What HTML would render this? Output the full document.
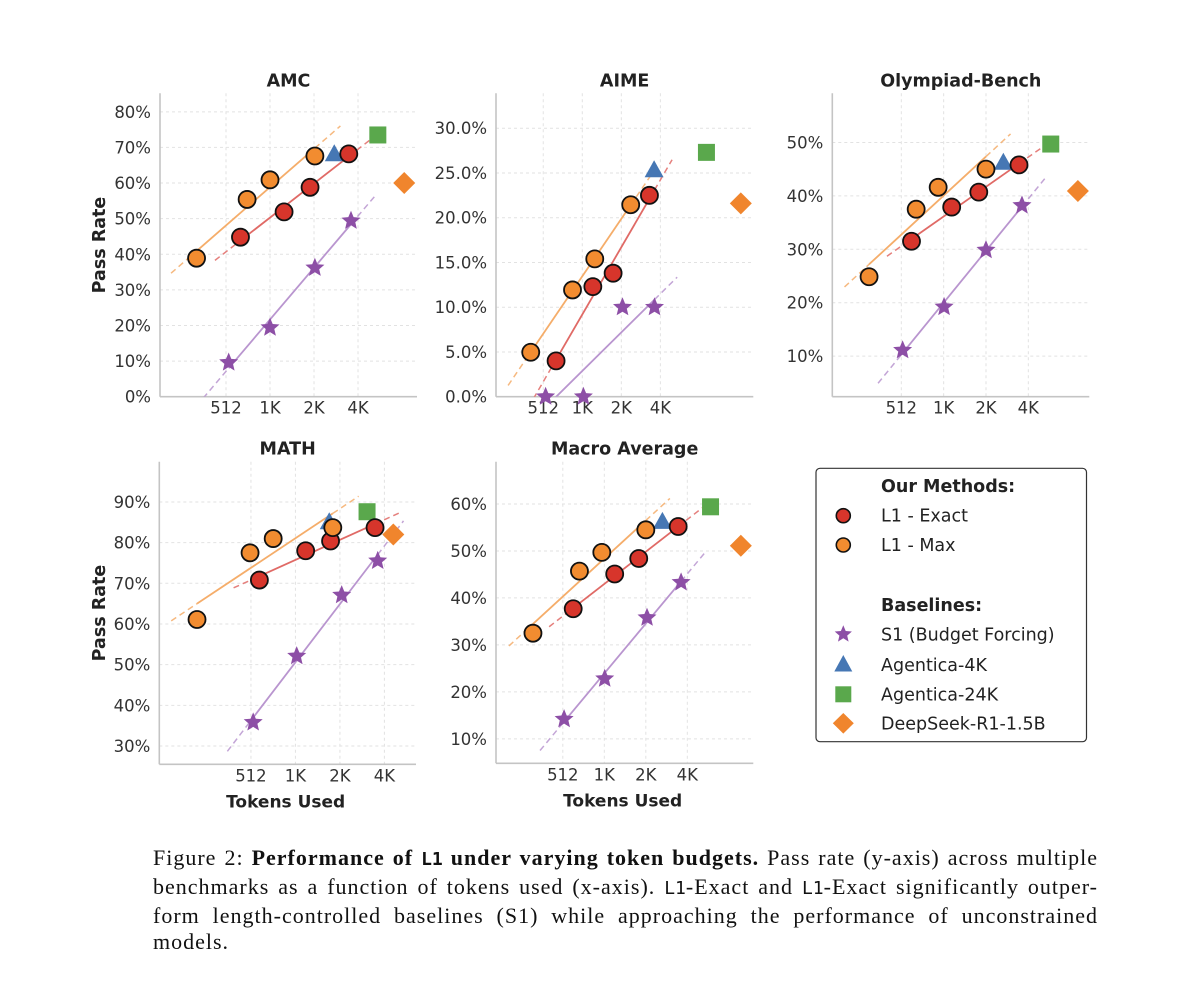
<!DOCTYPE html>
<html><head><meta charset="utf-8">
<style>
html,body{margin:0;padding:0;background:#fff;}
#wrap{position:relative;width:1200px;height:983px;overflow:hidden;}
svg text{font-family:"DejaVu Sans","Liberation Sans",sans-serif;}
#caption{position:absolute;left:153px;top:845px;width:945px;font-family:"Liberation Serif",serif;font-size:22px;letter-spacing:1px;line-height:26.8px;color:#111;}
#caption .ln{display:block;text-align:justify;text-align-last:justify;white-space:nowrap;}
#caption .last{text-align-last:left;}
#caption code{font-family:"DejaVu Sans Mono","Liberation Mono",monospace;font-size:18px;letter-spacing:0;}
</style></head>
<body>
<div id="wrap">
<svg id="chart" width="1200" height="840" viewBox="0 0 1200 840"></svg>
<div id="caption">
<span class="ln">Figure 2: <b>Performance of <code style="font-weight:bold">L1</code> under varying token budgets.</b> Pass rate (y-axis) across multiple</span>
<span class="ln">benchmarks as a function of tokens used (x-axis). <code>L1</code>-Exact and <code>L1</code>-Exact significantly outper-</span>
<span class="ln">form length-controlled baselines (S1) while approaching the performance of unconstrained</span>
<span class="ln last">models.</span>
</div>
</div>
<script>
// ---- data (tokens, pass-rate %) ----
const xTickTokens = [512, 1024, 2048, 4096];
const xTickLabels = ["512", "1K", "2K", "4K"];

const amcMaxTokens = [322, 714, 1024, 2076];
const amcMaxValues = [38.9, 55.4, 60.9, 67.6];
const amcExactTokens = [643, 1278, 1924, 3540];
const amcExactValues = [44.8, 51.9, 58.8, 68.2];
const amcS1Tokens = [534, 1024, 2076, 3665];
const amcS1Values = [9.6, 19.4, 36.2, 49.4];
const amcBaselineTokens = [2817, 5595, 8478];
const amcBaselineValues = [68.1, 73.5, 60.0];
const amcYTicks = [0, 10, 20, 30, 40, 50, 60, 70, 80];

const aimeMaxTokens = [410, 861, 1278, 2419];
const aimeMaxValues = [4.97, 11.93, 15.4, 21.45];
const aimeExactTokens = [643, 1235, 1770, 3373];
const aimeExactValues = [4.0, 12.3, 13.8, 22.5];
const aimeS1Tokens = [534, 1045, 2090, 3690];
const aimeS1Values = [0, 0, 10, 10];
const aimeBaselineTokens = [3665, 9280, 17080];
const aimeBaselineValues = [25.3, 27.3, 21.6];
const aimeYTicks = [0, 5, 10, 15, 20, 25, 30];

const olyMaxTokens = [302, 653, 936, 2048];
const olyMaxValues = [24.85, 37.5, 41.6, 45.0];
const olyExactTokens = [605, 1168, 1820, 3516];
const olyExactValues = [31.5, 37.9, 40.7, 45.8];
const olyS1Tokens = [523, 1031, 2048, 3690];
const olyS1Values = [11.1, 19.2, 29.85, 38.2];
const olyBaselineTokens = [2721, 5913, 9216];
const olyBaselineValues = [46.2, 49.7, 40.9];
const olyYTicks = [10, 20, 30, 40, 50];

const mathMaxTokens = [221, 505, 724, 1833];
const mathMaxValues = [61.1, 77.5, 81.0, 83.7];
const mathExactTokens = [584, 1201, 1770, 3540];
const mathExactValues = [70.8, 78.0, 80.4, 83.7];
const mathS1Tokens = [530, 1045, 2105, 3690];
const mathS1Values = [35.8, 52.1, 67.1, 75.5];
const mathBaselineTokens = [1734, 3125, 4705];
const mathBaselineValues = [85.0, 87.6, 82.0];
const mathYTicks = [30, 40, 50, 60, 70, 80, 90];

const macroMaxTokens = [311, 676, 982, 2048];
const macroMaxValues = [32.5, 45.7, 49.7, 54.5];
const macroExactTokens = [609, 1218, 1820, 3516];
const macroExactValues = [37.7, 45.1, 48.4, 55.2];
const macroS1Tokens = [523, 1031, 2090, 3690];
const macroS1Values = [14.2, 22.8, 35.8, 43.3];
const macroBaselineTokens = [2702, 6037, 10015];
const macroBaselineValues = [56.2, 59.4, 51.1];
const macroYTicks = [10, 20, 30, 40, 50, 60];

const NS = "http://www.w3.org/2000/svg";
const svg = document.getElementById("chart");
const C = {exact:"#d7352b", max:"#f28c30", s1:"#8d4fa6", tri:"#4677b4", sq:"#5aa84c", dia:"#f0852d",
  exactLine:"#e06a66", maxLine:"#f5ad6a", s1Line:"#b995cf"};

function mk(tag, attrs, parent){
  const e = document.createElementNS(NS, tag);
  for (const k in attrs) e.setAttribute(k, attrs[k]);
  (parent||svg).appendChild(e);
  return e;
}

const panels = [
  {key:"amc", title:"AMC", px:[160,417], lx:[7.5,13.34], py:[93.3,396.7], yd:[85.2,0], yt:amcYTicks, dec:0, ylabel:true, xlabel:false,
   max:[amcMaxTokens,amcMaxValues], exact:[amcExactTokens,amcExactValues], s1:[amcS1Tokens,amcS1Values], base:[amcBaselineTokens,amcBaselineValues]},
  {key:"aime", title:"AIME", px:[496,753.3], lx:[7.79,14.38], py:[93.3,396.7], yd:[33.9,0], yt:aimeYTicks, dec:1, ylabel:false, xlabel:false,
   max:[aimeMaxTokens,aimeMaxValues], exact:[aimeExactTokens,aimeExactValues], s1:[aimeS1Tokens,aimeS1Values], base:[aimeBaselineTokens,aimeBaselineValues]},
  {key:"olympiad", title:"Olympiad-Bench", px:[832.3,1089.3], lx:[7.37,13.44], py:[93.3,396.7], yd:[59.2,2.4], yt:olyYTicks, dec:0, ylabel:false, xlabel:false,
   max:[olyMaxTokens,olyMaxValues], exact:[olyExactTokens,olyExactValues], s1:[olyS1Tokens,olyS1Values], base:[olyBaselineTokens,olyBaselineValues]},
  {key:"math", title:"MATH", px:[159.3,416], lx:[6.94,12.71], py:[461.7,764.3], yd:[99.9,25.5], yt:mathYTicks, dec:0, ylabel:true, xlabel:true,
   max:[mathMaxTokens,mathMaxValues], exact:[mathExactTokens,mathExactValues], s1:[mathS1Tokens,mathS1Values], base:[mathBaselineTokens,mathBaselineValues]},
  {key:"macro", title:"Macro Average", px:[496,753.3], lx:[7.39,13.59], py:[461.7,763.3], yd:[69,4.8], yt:macroYTicks, dec:0, ylabel:false, xlabel:true,
   max:[macroMaxTokens,macroMaxValues], exact:[macroExactTokens,macroExactValues], s1:[macroS1Tokens,macroS1Values], base:[macroBaselineTokens,macroBaselineValues]}
];

function starPts(cx, cy, R){
  const r = R*0.45; let p = [];
  for (let i=0;i<10;i++){
    const a = -Math.PI/2 + i*Math.PI/5, rr = i%2? r : R;
    p.push((cx+rr*Math.cos(a)).toFixed(1)+","+(cy+rr*Math.sin(a)).toFixed(1));
  }
  return p.join(" ");
}

function fit(xs, ys){
  const n = xs.length; let mx=0,my=0; xs.forEach(v=>mx+=v); ys.forEach(v=>my+=v); mx/=n; my/=n;
  let sxy=0,sxx=0; for(let i=0;i<n;i++){sxy+=(xs[i]-mx)*(ys[i]-my); sxx+=(xs[i]-mx)**2;}
  const b = sxy/sxx; return {a:my-b*mx, b:b};
}

panels.forEach((P, pi)=>{
  const g = mk("g", {});
  
  
  const X = t => P.px[0] + (Math.log2(t) - P.lx[0]) / (P.lx[1]-P.lx[0]) * (P.px[1]-P.px[0]);
  const XL = l => P.px[0] + (l - P.lx[0]) / (P.lx[1]-P.lx[0]) * (P.px[1]-P.px[0]);
  const Y = v => P.py[0] + (P.yd[0]-v) / (P.yd[0]-P.yd[1]) * (P.py[1]-P.py[0]);

  const cp = mk("clipPath", {id:"clip"+pi}, g);
  mk("rect", {x:P.px[0], y:P.py[0], width:P.px[1]-P.px[0], height:P.py[1]-P.py[0]}, cp);

  P.yt.forEach(v=>{
    const l = mk("line", {x1:P.px[0], x2:P.px[1], y1:Y(v), y2:Y(v), stroke:"#e2e2e2", "stroke-width":1, "stroke-dasharray":"3,3"}, g);
    
    
    const t = mk("text", {x:P.px[0]-9, y:Y(v)+6, "text-anchor":"end", "font-size":16.5, fill:"#333"}, g);
    t.textContent = v.toFixed(P.dec) + "%";
    
    
  });
  xTickTokens.forEach((tk, i)=>{
    const l = mk("line", {x1:X(tk), x2:X(tk), y1:P.py[0], y2:P.py[1], stroke:"#e2e2e2", "stroke-width":1, "stroke-dasharray":"3,3"}, g);
    
    
    const t = mk("text", {x:X(tk), y:P.py[1]+17, "text-anchor":"middle", "font-size":16.5, fill:"#333"}, g);
    t.textContent = xTickLabels[i];
    
    
  });
  const sp1 = mk("line", {x1:P.px[0], x2:P.px[0], y1:P.py[0], y2:P.py[1], stroke:"#c4c4c4", "stroke-width":1.6}, g);
  
  
  const sp2 = mk("line", {x1:P.px[0], x2:P.px[1], y1:P.py[1], y2:P.py[1], stroke:"#c4c4c4", "stroke-width":1.6}, g);
  
  

  const tt = mk("text", {x:(P.px[0]+P.px[1])/2, y:P.py[0]-7, "text-anchor":"middle", "font-size":17.5, "font-weight":"bold", fill:"#222"}, g);
  tt.textContent = P.title;
  
  
  if (P.ylabel){
    const cy = (P.py[0]+P.py[1])/2;
    const yl = mk("text", {x:105, y:cy, "text-anchor":"middle", "font-size":17.5, "font-weight":"bold", fill:"#222", transform:"rotate(-90 105 "+cy+")"}, g);
    yl.textContent = "Pass Rate";
    
    
  }
  if (P.xlabel){
    const xl = mk("text", {x:(P.px[0]+P.px[1])/2-2, y:P.py[1]+43, "text-anchor":"middle", "font-size":17, "font-weight":"bold", fill:"#222"}, g);
    xl.textContent = "Tokens Used";
    
    
  }

  const lg = mk("g", {"clip-path":"url(#clip"+pi+")"}, g);
  [["s1",C.s1Line],["exact",C.exactLine],["max",C.maxLine]].forEach(([k,col])=>{
    const ls = P[k][0].map(t=>Math.log2(t)), vs = P[k][1];
    const f = fit(ls, vs);
    const lo = Math.min(...ls), hi = Math.max(...ls), ext = 0.58;
    const d1 = mk("line", {x1:XL(lo-ext), y1:Y(f.a+f.b*(lo-ext)), x2:XL(lo), y2:Y(f.a+f.b*lo), stroke:col, "stroke-width":1.5, "stroke-dasharray":"6,4", "stroke-opacity":0.85}, lg);
    
    
    const s = mk("line", {x1:XL(lo), y1:Y(f.a+f.b*lo), x2:XL(hi), y2:Y(f.a+f.b*hi), stroke:col, "stroke-width":1.8}, lg);
    
    
    const d2 = mk("line", {x1:XL(hi), y1:Y(f.a+f.b*hi), x2:XL(hi+ext), y2:Y(f.a+f.b*(hi+ext)), stroke:col, "stroke-width":1.5, "stroke-dasharray":"6,4", "stroke-opacity":0.85}, lg);
    
    
  });

  const bt = P.base[0], bv = P.base[1];
  {
    const cx = X(bt[0]), cy = Y(bv[0]);
    const m = mk("polygon", {points:`${cx},${cy-10} ${cx+9.5},${cy+7} ${cx-9.5},${cy+7}`, fill:C.tri}, g);
    
    
  }
  {
    const cx = X(bt[1]), cy = Y(bv[1]);
    const m = mk("rect", {x:cx-8.5, y:cy-8.5, width:17, height:17, fill:C.sq}, g);
    
    
  }
  {
    const cx = X(bt[2]), cy = Y(bv[2]);
    const m = mk("polygon", {points:`${cx},${cy-11} ${cx+11},${cy} ${cx},${cy+11} ${cx-11},${cy}`, fill:C.dia}, g);
    
    
  }
  P.s1[0].forEach((t,i)=>{
    const m = mk("polygon", {points:starPts(X(t), Y(P.s1[1][i]), 10), fill:C.s1}, g);
    
    
  });
  P.exact[0].forEach((t,i)=>{
    const m = mk("circle", {cx:X(t), cy:Y(P.exact[1][i]), r:8.5, fill:C.exact, stroke:"#111", "stroke-width":1.8}, g);
    
    
  });
  P.max[0].forEach((t,i)=>{
    const m = mk("circle", {cx:X(t), cy:Y(P.max[1][i]), r:8.5, fill:C.max, stroke:"#111", "stroke-width":1.8}, g);
    
    
  });
});

const L = mk("g", {});


const lb = mk("rect", {x:816, y:468.3, width:270.5, height:273.4, rx:4, fill:"#fff", stroke:"#333", "stroke-width":1.2}, L);


function ltext(txt, y, bold, name){
  const t = mk("text", {x:881, y:y+6, "font-size":17.5, fill:"#222", "font-weight":bold?"bold":"normal"}, L);
  t.textContent = txt;
  
  
}
ltext("Our Methods:", 486, true, "legend-heading-methods");
ltext("L1 - Exact", 515.7, false, "legend-entry-l1-exact");
ltext("L1 - Max", 545, false, "legend-entry-l1-max");
ltext("Baselines:", 605, true, "legend-heading-baselines");
ltext("S1 (Budget Forcing)", 634.3, false, "legend-entry-s1");
ltext("Agentica-4K", 665, false, "legend-entry-agentica-4k");
ltext("Agentica-24K", 694.3, false, "legend-entry-agentica-24k");
ltext("DeepSeek-R1-1.5B", 723.3, false, "legend-entry-deepseek");
const lm1 = mk("circle", {cx:843.3, cy:515.7, r:7, fill:C.exact, stroke:"#111", "stroke-width":1.6}, L);


const lm2 = mk("circle", {cx:843.3, cy:545, r:7, fill:C.max, stroke:"#111", "stroke-width":1.6}, L);


const lm3 = mk("polygon", {points:starPts(843.3, 634.3, 9), fill:C.s1}, L);


const lm4 = mk("polygon", {points:"843.3,655 852.3,671.5 834.3,671.5", fill:C.tri}, L);


const lm5 = mk("rect", {x:835.3, y:686.3, width:16, height:16, fill:C.sq}, L);


const lm6 = mk("polygon", {points:"843.3,713 853.8,723.3 843.3,733.6 832.8,723.3", fill:C.dia}, L);


</script>
</body></html>
